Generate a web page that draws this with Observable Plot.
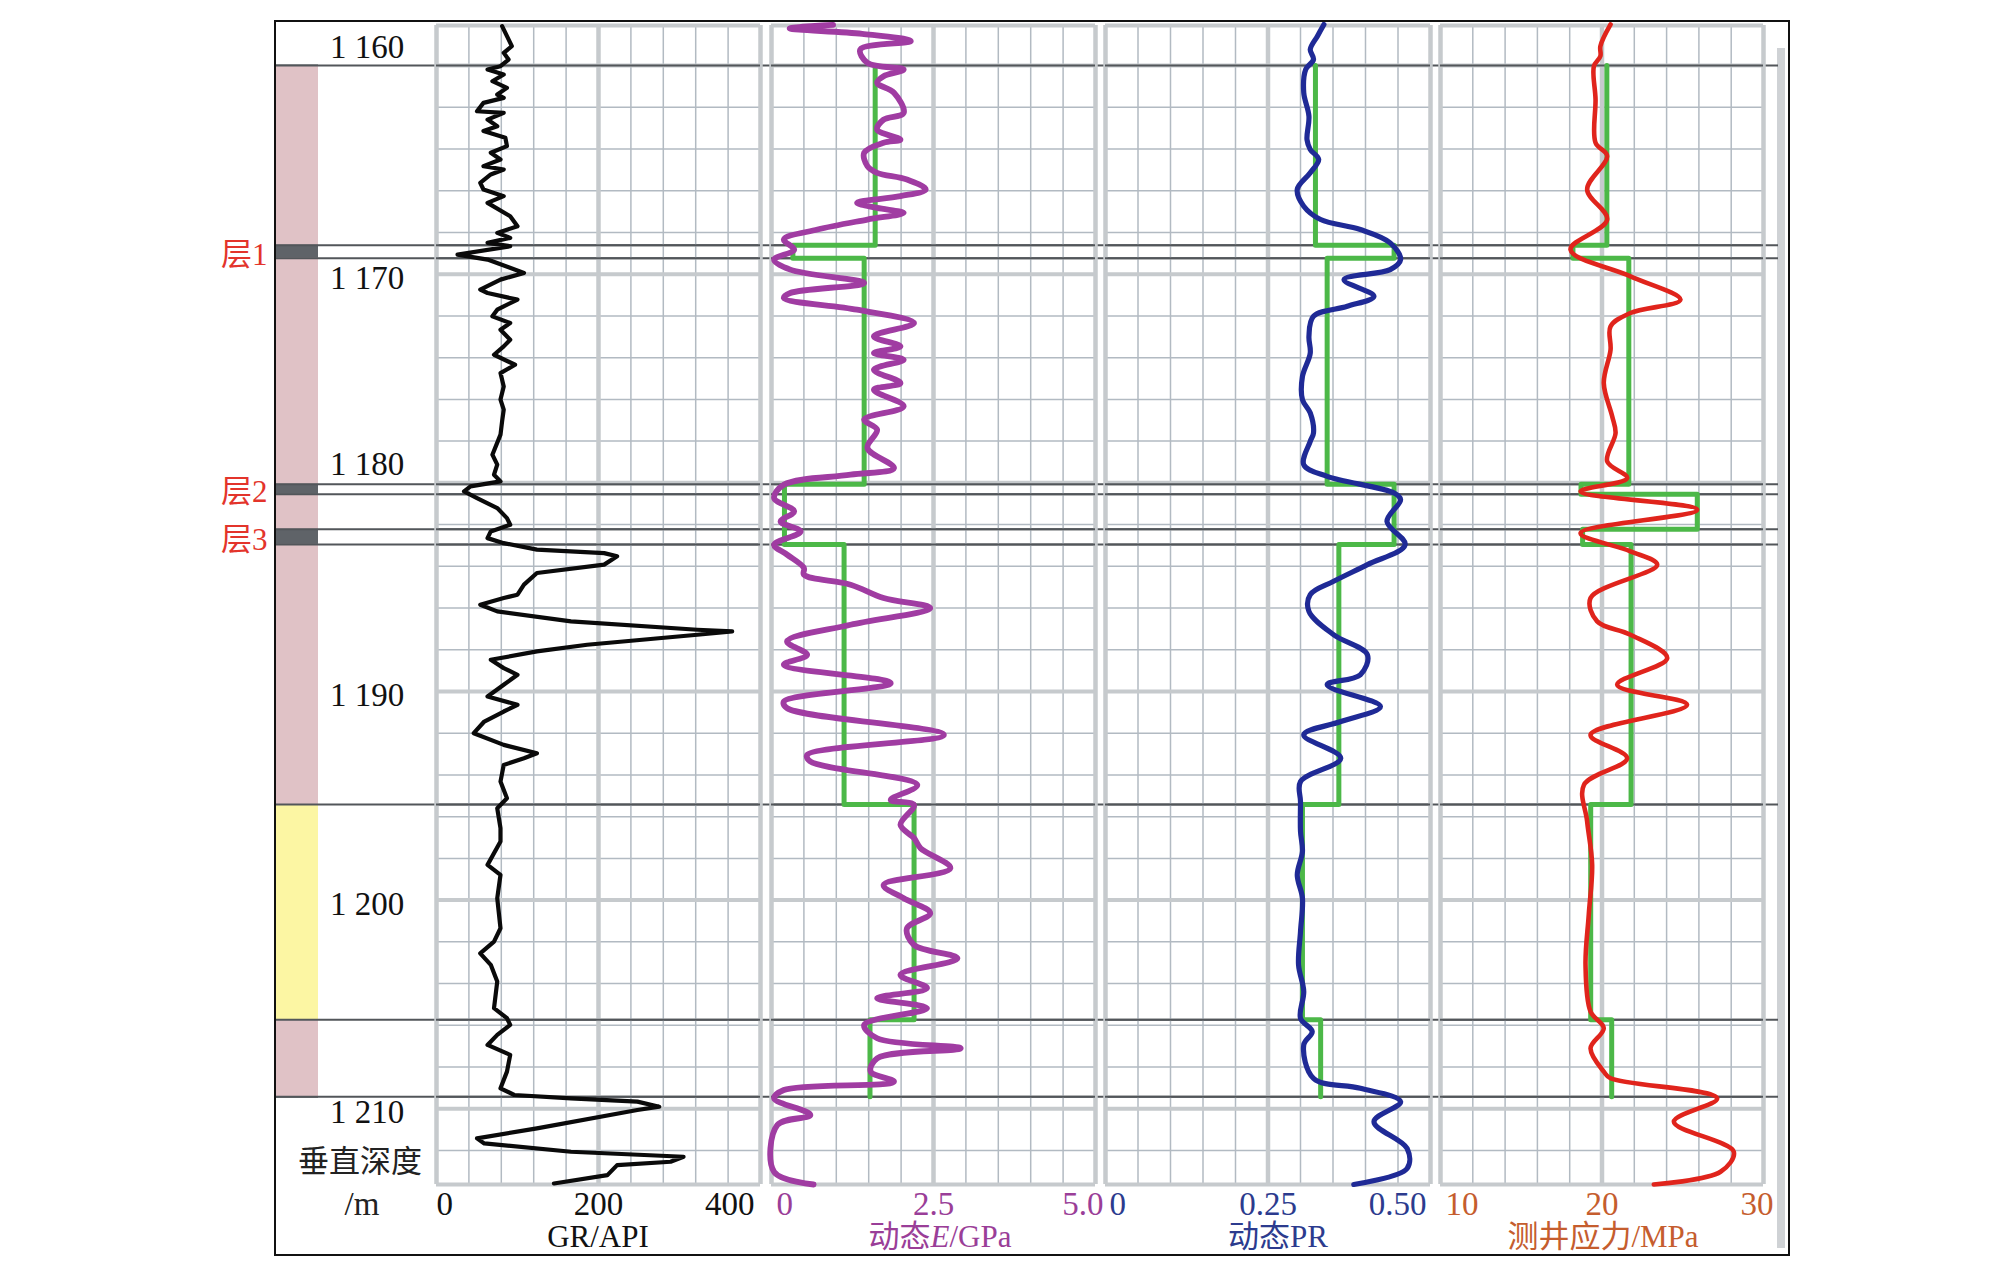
<!DOCTYPE html>
<html>
<head>
<meta charset="utf-8">
<script src="https://cdn.jsdelivr.net/npm/d3@7"></script>
<script src="https://cdn.jsdelivr.net/npm/@observablehq/plot@0.6"></script>
<style>
  body { margin: 0; background: #fff; }
  #chart { position: relative; width: 2008px; height: 1265px; overflow: hidden;
           font-family: "Liberation Serif", "Noto Sans CJK SC", serif; }
  #chart svg { position: absolute; top: 0; }
  .frame { position: absolute; left: 274px; top: 20px; width: 1516px; height: 1236px;
           border: 2px solid #111; box-sizing: border-box; pointer-events: none; }
  .scroll { position: absolute; left: 1777px; top: 48px; width: 8px; height: 1200px; background: #cfd2d5; }
  .title { position: absolute; top: 1219px; font-size: 31px; line-height: 36px; white-space: nowrap;
           transform: translateX(-50%); font-family: "Liberation Serif", "Noto Sans CJK SC", serif; }
</style>
</head>
<body>
<div id="chart"><div class="scroll"></div></div>
<script>
// ---------------- data ----------------
const depthTicks = [1160, 1170, 1180, 1190, 1200, 1210];
const depthTickLabels = ["1 160", "1 170", "1 180", "1 190", "1 200", "1 210"];
const boundaries = [1160, 1168.61, 1169.23, 1180.07, 1180.55, 1182.23, 1182.95, 1195.42, 1205.73, 1209.42];

const lithTop = [1160, 1195.42, 1205.73];
const lithBottom = [1195.42, 1205.73, 1209.42];
const lithType = ["pink", "yellow", "pink"];

const layerNames = ["层1", "层2", "层3"];
const layerTop = [1168.61, 1180.07, 1182.23];
const layerBottom = [1169.23, 1180.55, 1182.95];

const segTop = [1160, 1168.61, 1169.23, 1180.07, 1180.55, 1182.23, 1182.95, 1195.42, 1205.73];
const segBottom = [1168.61, 1169.23, 1180.07, 1180.55, 1182.23, 1182.95, 1195.42, 1205.73, 1209.42];
const eStep = [1.60, 0.33, 1.43, 0.20, 0.20, 0.20, 1.12, 2.20, 1.52];
const prStep = [0.323, 0.444, 0.341, 0.444, 0.444, 0.444, 0.359, 0.303, 0.331];
const stressStep = [20.3, 18.2, 21.66, 18.7, 25.9, 18.8, 21.8, 19.3, 20.6];

const grDepth = [1158.11,1158.59,1159.07,1159.39,1159.71,1160.03,1160.19,1160.43,1160.75,1161.07,1161.39,1161.55,1161.79,1162.19,1162.27,1162.59,1162.91,1163.14,1163.46,1163.86,1164.18,1164.50,1164.82,1164.98,1165.22,1165.62,1165.94,1166.26,1166.58,1167.22,1167.70,1168.02,1168.26,1168.50,1168.66,1169.06,1169.30,1169.94,1170.26,1170.74,1170.90,1171.22,1171.54,1171.70,1172.02,1172.34,1172.66,1173.14,1173.46,1173.86,1174.34,1174.74,1175.38,1176.01,1176.49,1177.05,1177.69,1178.65,1179.13,1179.61,1179.93,1180.17,1180.41,1180.73,1181.21,1181.69,1182.01,1182.33,1182.65,1182.89,1183.20,1183.37,1183.52,1183.92,1184.32,1184.88,1185.36,1185.52,1185.84,1186.16,1186.64,1187.04,1187.12,1187.28,1187.76,1188.08,1188.48,1188.88,1189.20,1189.68,1190.24,1190.64,1190.96,1191.44,1192.00,1192.56,1192.96,1193.20,1193.52,1194.32,1195.12,1195.60,1196.55,1197.19,1198.31,1198.79,1199.91,1201.35,1201.99,1202.55,1203.10,1203.90,1205.18,1205.66,1205.98,1206.46,1206.94,1207.42,1208.22,1209.02,1209.34,1209.50,1209.66,1209.90,1210.06,1210.94,1211.42,1211.66,1212.06,1212.30,1212.54,1212.70,1213.18,1213.58];
const grValue = [81,87,93,83,89,79,63,83,69,87,75,83,58,50,83,63,75,58,85,87,67,79,58,83,67,54,58,83,63,91,100,75,91,63,91,26,63,108,79,54,63,100,83,75,69,91,79,91,83,71,97,79,83,79,83,81,79,69,75,71,79,42,34,50,75,87,91,67,63,83,124,207,223,207,124,108,100,83,54,75,166,322,365,322,186,124,67,83,100,83,63,100,83,59,46,83,124,108,83,79,87,75,79,79,63,79,75,79,71,54,67,75,71,87,91,75,63,91,87,79,96,166,248,275,248,124,50,59,166,305,289,223,211,145];

const eDepth = [1158.05,1158.22,1158.48,1158.83,1159.23,1159.87,1160.19,1160.51,1160.83,1161.30,1162.27,1162.59,1163.07,1163.55,1163.70,1164.18,1164.82,1165.14,1165.46,1165.94,1166.26,1166.58,1166.82,1167.06,1167.38,1167.86,1168.34,1168.82,1169.30,1169.78,1170.42,1170.90,1171.14,1171.70,1172.34,1172.98,1173.46,1173.78,1174.10,1174.58,1175.22,1175.54,1176.33,1176.97,1177.45,1178.33,1179.29,1179.61,1180.09,1180.73,1181.37,1181.85,1182.33,1182.97,1183.44,1184.08,1184.40,1184.88,1185.52,1186.00,1186.80,1187.60,1188.24,1188.72,1189.60,1190.48,1190.80,1192.08,1193.04,1193.36,1194.48,1195.20,1195.44,1196.39,1197.03,1197.51,1198.47,1199.27,1199.91,1200.63,1201.35,1202.15,1202.79,1203.58,1204.22,1204.70,1205.18,1205.98,1206.62,1207.10,1207.58,1208.22,1208.70,1209.10,1209.50,1210.30,1210.78,1213.02,1213.63];
const eValue = [0.95,0.28,1.40,2.15,1.37,1.48,2.04,1.73,1.63,1.89,2.04,1.73,1.63,1.99,1.73,1.43,1.48,1.63,2.09,2.38,1.99,1.32,1.63,2.04,1.48,0.71,0.19,0.35,0.04,0.29,1.43,0.29,0.19,1.32,2.20,1.58,1.99,1.58,2.04,1.58,1.99,1.58,2.04,1.43,1.63,1.48,1.89,1.22,0.19,0.04,0.35,0.14,0.45,0.04,0.24,0.50,0.50,1.22,1.73,2.45,1.22,0.24,0.55,0.19,1.84,0.19,0.24,2.66,0.55,0.60,2.25,1.84,2.20,1.99,2.20,2.30,2.76,1.73,2.04,2.45,2.09,2.20,2.87,1.99,2.40,1.63,2.40,1.43,1.63,2.92,1.63,1.53,1.89,0.19,0.04,0.60,0.09,0.04,0.65];

const prDepth = [1158.03,1158.59,1159.23,1159.71,1160.19,1161.30,1162.43,1163.55,1164.02,1164.50,1165.14,1165.94,1166.74,1167.38,1167.86,1168.50,1169.30,1169.78,1170.26,1171.06,1171.54,1172.02,1172.98,1173.78,1174.90,1176.01,1176.65,1177.61,1178.01,1179.13,1179.69,1180.49,1180.81,1181.85,1182.97,1183.92,1184.72,1185.36,1186.16,1187.28,1188.24,1189.20,1189.68,1190.72,1191.44,1192.08,1193.20,1194.32,1195.28,1196.71,1197.67,1198.79,1199.91,1201.51,1203.10,1204.38,1205.66,1206.30,1206.94,1208.54,1209.02,1209.66,1210.62,1211.90,1212.86,1213.63];
const prValue = [0.336,0.326,0.315,0.320,0.308,0.305,0.313,0.310,0.315,0.328,0.315,0.295,0.305,0.331,0.392,0.438,0.454,0.438,0.367,0.413,0.372,0.320,0.313,0.315,0.303,0.303,0.315,0.320,0.315,0.305,0.341,0.444,0.454,0.433,0.461,0.403,0.351,0.315,0.313,0.351,0.403,0.392,0.341,0.423,0.362,0.305,0.362,0.300,0.300,0.300,0.303,0.295,0.303,0.300,0.297,0.305,0.300,0.318,0.305,0.320,0.392,0.454,0.413,0.464,0.464,0.382];

const stressDepth = [1158.03,1159.07,1159.55,1160.03,1161.62,1163.70,1164.34,1165.94,1167.38,1168.82,1170.10,1171.22,1171.86,1172.50,1173.62,1175.22,1176.81,1177.61,1178.97,1179.77,1180.41,1181.29,1182.41,1183.28,1183.92,1185.52,1186.64,1187.28,1188.40,1189.68,1190.64,1192.08,1193.20,1194.48,1196.23,1198.31,1200.71,1203.10,1205.34,1206.14,1207.10,1208.22,1208.54,1209.50,1210.62,1212.06,1213.02,1213.63];
const stressValue = [20.53,19.90,19.90,19.50,19.60,19.60,20.32,19.08,20.32,18.05,21.76,24.86,21.76,20.53,20.53,20.11,20.63,20.84,20.32,21.56,18.67,25.89,18.67,21.76,23.42,19.29,19.70,21.76,24.04,20.94,25.27,19.29,21.56,18.88,19.08,19.39,19.18,18.98,19.29,20.11,19.29,20.11,20.53,27.13,24.45,28.16,27.34,23.21];

const grTicks = [0, 200, 400], grTickLabels = ["0", "200", "400"];
const eTicks = [0, 2.5, 5], eTickLabels = ["0", "2.5", "5.0"];
const prTicks = [0, 0.25, 0.5], prTickLabels = ["0", "0.25", "0.50"];
const stressTicks = [10, 20, 30], stressTickLabels = ["10", "20", "30"];

// ---------------- layout / style ----------------
const W = 2008, H = 1265;
const yDomain = [1158.08, 1213.63];
const mTop = 25, mBottom = H - 1184;
const thinColor = "#b2bac2", thickColor = "#c6cacd", darkColor = "#52565a";
const green = "#4cb848";
const FONT = "Liberation Serif, Noto Sans CJK SC, serif";
const chart = document.getElementById("chart");
const yScale = {domain: yDomain, reverse: true, axis: null};
const svgStyle = (left) => ({background: "transparent", overflow: "visible", position: "absolute",
  left: left + "px", top: "0px", maxWidth: "none", fontFamily: FONT});

function place(svg) { chart.appendChild(svg); }

// base: boundary rules spanning all tracks and gaps
place(Plot.plot({
  width: W, height: H, marginLeft: 275, marginRight: W - 1778, marginTop: mTop, marginBottom: mBottom,
  y: yScale, style: svgStyle(0),
  marks: [Plot.ruleY(boundaries, {stroke: darkColor, strokeWidth: 2})]
}));

// lithology column
const lith = lithType.map((t, i) => ({top: lithTop[i], bottom: lithBottom[i], type: t}));
const layers = layerNames.map((n, i) => ({name: n, top: layerTop[i], bottom: layerBottom[i]}));
const lithColors = {pink: "#e0c2c6", yellow: "#fcf6a3"};
place(Plot.plot({
  width: 42, height: H, marginLeft: 0, marginRight: 0, marginTop: mTop, marginBottom: mBottom,
  x: {domain: [0, 1], axis: null}, y: yScale, style: svgStyle(276),
  marks: [
    Plot.rect(lith, {x1: 0, x2: 1, y1: "top", y2: "bottom", fill: d => lithColors[d.type]}),
    Plot.rect(layers, {x1: 0, x2: 1, y1: "top", y2: "bottom", fill: "#5f6368"}),
    Plot.ruleY(boundaries, {stroke: darkColor, strokeWidth: 2})
  ]
}));

// depth labels column
const ticks = depthTicks.map((d, i) => ({depth: d, label: depthTickLabels[i],
  crowded: boundaries.some(b => Math.abs(b - d) < 0.5)}));
place(Plot.plot({
  width: 236, height: H, marginLeft: 75, marginRight: 0, marginTop: mTop, marginBottom: mBottom,
  x: {domain: [0, 1], axis: null}, y: yScale, style: svgStyle(200),
  marks: [
    Plot.text(ticks.filter(d => !d.crowded), {y: "depth", text: "label", frameAnchor: "middle", dx: 11, dy: 4,
      fontSize: 33, fill: "#111", fontFamily: FONT}),
    Plot.text(ticks.filter(d => d.crowded), {y: "depth", text: "label", frameAnchor: "middle", dx: 11, dy: -18,
      fontSize: 33, fill: "#111", fontFamily: FONT}),
    Plot.text(layers, {y: d => (d.top + d.bottom) / 2, text: "name", frameAnchor: "left", textAnchor: "end",
      dx: -8, dy: 3, fontSize: 31, fill: "#e3342b", fontFamily: FONT}),
    Plot.text(["垂直深度"], {text: d => d, frameAnchor: "bottom", dx: 4, dy: -13, fontSize: 31, fill: "#222", fontFamily: FONT}),
    Plot.text(["/m"], {text: d => d, frameAnchor: "bottom", dx: 6, dy: 30, fontSize: 33, fill: "#222", fontFamily: FONT})
  ]
}));

// tracks
const stepOf = (vals) => vals.flatMap((v, i) => [{v, d: segTop[i]}, {v, d: segBottom[i]}]);
const tracks = [
  {left: 436, right: 760, domain: [0, 400], depth: grDepth, value: grValue, color: "#0a0a0a", width: 4.2,
   curve: "linear", step: null, ticks: grTicks, labels: grTickLabels, labelColor: "#111", dxFirst: 0, dxLast: -6},
  {left: 771, right: 1095, domain: [0, 5], depth: eDepth, value: eValue, color: "#a03ca2", width: 5.8,
   curve: "catmull-rom", step: eStep, ticks: eTicks, labels: eTickLabels, labelColor: "#9a3e98", dxFirst: 5, dxLast: 8},
  {left: 1105, right: 1430, domain: [0, 0.5], depth: prDepth, value: prValue, color: "#1f2a96", width: 5.2,
   curve: "catmull-rom", step: prStep, ticks: prTicks, labels: prTickLabels, labelColor: "#2c3b8e", dxFirst: 4, dxLast: -4},
  {left: 1440, right: 1763, domain: [10, 30], depth: stressDepth, value: stressValue, color: "#e0241c", width: 4.6,
   curve: "catmull-rom", step: stressStep, ticks: stressTicks, labels: stressTickLabels, labelColor: "#c55d2e", dxFirst: 5, dxLast: 10}
];

const pad = 40;
for (const t of tracks) {
  const [lo, hi] = t.domain;
  const thinX = d3.range(11).map(i => lo + i * (hi - lo) / 10);
  const thickX = [lo, (lo + hi) / 2, hi];
  const thinY = d3.range(1160, 1213, 2);
  const thickY = [yDomain[0], 1160, 1170, 1180, 1190, 1200, 1210, yDomain[1]];
  const series = t.depth.map((d, i) => ({d, v: t.value[i]}));
  const tk = t.ticks.map((v, i) => ({v, label: t.labels[i], i}));
  const marks = [
    Plot.ruleX(thinX, {stroke: thinColor, strokeWidth: 1.5}),
    Plot.ruleY(thinY, {stroke: thinColor, strokeWidth: 1.5}),
    Plot.ruleY(thickY, {stroke: thickColor, strokeWidth: 4}),
    Plot.ruleX(thickX, {stroke: thickColor, strokeWidth: 4.5}),
    Plot.ruleY(boundaries, {stroke: darkColor, strokeWidth: 2})
  ];
  if (t.step) marks.push(Plot.line(stepOf(t.step), {x: "v", y: "d", stroke: green, strokeWidth: 5}));
  marks.push(Plot.line(series, {x: "v", y: "d", stroke: t.color, strokeWidth: t.width, curve: t.curve,
    strokeLinejoin: "round", strokeLinecap: "round"}));
  marks.push(
    Plot.text(tk.filter(d => d.i === 0), {x: "v", text: "label", frameAnchor: "bottom", dy: 30, dx: t.dxFirst,
      textAnchor: "start", fontSize: 33, fill: t.labelColor, fontFamily: FONT}),
    Plot.text(tk.filter(d => d.i === 1), {x: "v", text: "label", frameAnchor: "bottom", dy: 30,
      textAnchor: "middle", fontSize: 33, fill: t.labelColor, fontFamily: FONT}),
    Plot.text(tk.filter(d => d.i === 2), {x: "v", text: "label", frameAnchor: "bottom", dy: 30, dx: t.dxLast,
      textAnchor: "end", fontSize: 33, fill: t.labelColor, fontFamily: FONT})
  );
  place(Plot.plot({
    width: (t.right - t.left) + 2 * pad, height: H, marginLeft: pad, marginRight: pad,
    marginTop: mTop, marginBottom: mBottom,
    x: {domain: t.domain, axis: null}, y: yScale, style: svgStyle(t.left - pad),
    marks
  }));
}

// axis titles
const titles = [
  {html: "GR/API", x: 598, color: "#111"},
  {html: "动态<i>E</i>/GPa", x: 940, color: "#9a3e98"},
  {html: "动态PR", x: 1278, color: "#2c3b8e"},
  {html: "测井应力/MPa", x: 1603, color: "#c55d2e"}
];
for (const t of titles) {
  const div = document.createElement("div");
  div.className = "title";
  div.style.left = t.x + "px";
  div.style.color = t.color;
  div.innerHTML = t.html;
  chart.appendChild(div);
}
const frame = document.createElement("div");
frame.className = "frame";
chart.appendChild(frame);
</script>
</body>
</html>
